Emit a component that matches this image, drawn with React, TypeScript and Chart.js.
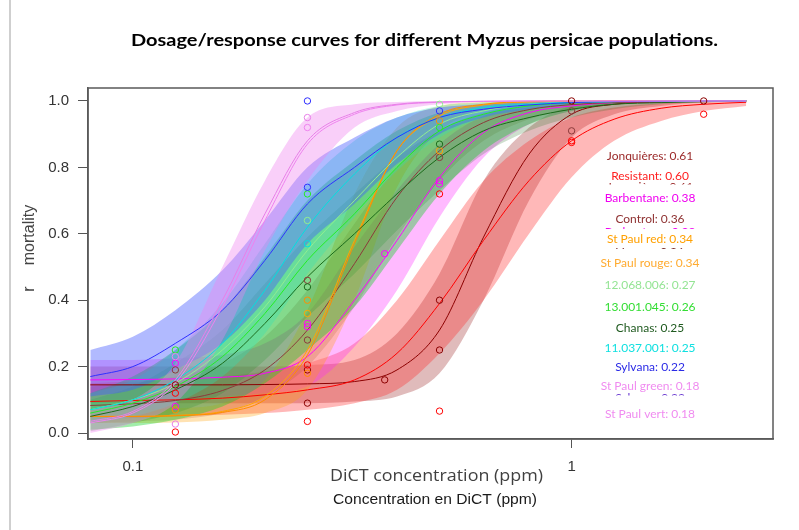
import React, { useEffect, useRef } from "react";
import { Chart, registerables } from "chart.js";
Chart.register(...registerables);

// ---------- data ----------
const doses = [0.08, 0.1, 0.125, 0.16, 0.2, 0.25, 0.32, 0.4, 0.5, 0.63, 0.8, 1, 1.25, 1.6, 2, 2.5];

const jonqFit = [0.145, 0.145, 0.145, 0.145, 0.146, 0.148, 0.155, 0.19, 0.31, 0.59, 0.84, 0.96, 0.99, 0.997, 0.999, 1.0];
const jonqLo = [0.09, 0.09, 0.09, 0.09, 0.09, 0.09, 0.095, 0.11, 0.18, 0.4, 0.7, 0.89, 0.96, 0.985, 0.995, 0.998];
const jonqHi = [0.2, 0.2, 0.2, 0.2, 0.2, 0.205, 0.22, 0.3, 0.48, 0.76, 0.92, 0.985, 0.997, 0.999, 1, 1];

const resFit = [0.095, 0.098, 0.1, 0.105, 0.115, 0.13, 0.16, 0.24, 0.39, 0.58, 0.76, 0.88, 0.945, 0.978, 0.99, 0.996];
const resLo = [0.04, 0.045, 0.05, 0.055, 0.06, 0.07, 0.09, 0.13, 0.24, 0.4, 0.6, 0.77, 0.88, 0.94, 0.97, 0.985];
const resHi = [0.15, 0.155, 0.16, 0.17, 0.185, 0.21, 0.27, 0.4, 0.58, 0.76, 0.88, 0.95, 0.98, 0.993, 0.997, 0.999];

const barbFit = [0.16, 0.161, 0.163, 0.168, 0.18, 0.23, 0.4, 0.58, 0.77, 0.905, 0.965, 0.985, 0.995, 0.998, 0.999, 1.0];
const barbLo = [0.1, 0.1, 0.1, 0.11, 0.12, 0.14, 0.26, 0.43, 0.65, 0.83, 0.93, 0.97, 0.99, 0.995, 0.998, 0.999];
const barbHi = [0.22, 0.22, 0.225, 0.235, 0.27, 0.36, 0.56, 0.73, 0.87, 0.955, 0.985, 0.995, 0.998, 0.999, 1, 1];

const ctrlFit = [0.083, 0.088, 0.098, 0.128, 0.19, 0.31, 0.51, 0.71, 0.85, 0.935, 0.974, 0.989, 0.995, 0.998, 0.999, 1];
const ctrlLo = [0.03, 0.035, 0.04, 0.06, 0.11, 0.2, 0.38, 0.59, 0.76, 0.88, 0.945, 0.975, 0.99, 0.995, 0.998, 0.999];
const ctrlHi = [0.14, 0.15, 0.17, 0.21, 0.29, 0.43, 0.63, 0.8, 0.91, 0.965, 0.988, 0.995, 0.998, 0.999, 1, 1];

const sprFit = [0.05, 0.05, 0.052, 0.062, 0.1, 0.235, 0.57, 0.85, 0.96, 0.99, 0.998, 1, 1, 1, 1, 1];
const sprLo = [0.03, 0.03, 0.032, 0.04, 0.06, 0.13, 0.4, 0.74, 0.91, 0.97, 0.99, 0.998, 1, 1, 1, 1];
const sprHi = [0.07, 0.07, 0.075, 0.09, 0.16, 0.37, 0.72, 0.92, 0.985, 0.997, 1, 1, 1, 1, 1, 1];

const sprgFit = [0.05, 0.05, 0.053, 0.065, 0.11, 0.25, 0.58, 0.85, 0.955, 0.988, 0.997, 0.999, 1, 1, 1, 1];

const p12Fit = [0.07, 0.1, 0.15, 0.25, 0.38, 0.55, 0.7, 0.83, 0.93, 0.97, 0.99, 0.995, 0.998, 0.999, 1, 1];

const p13Fit = [0.06, 0.09, 0.14, 0.23, 0.36, 0.52, 0.66, 0.8, 0.91, 0.96, 0.985, 0.994, 0.998, 0.999, 1, 1];
const p13Lo = [0.01, 0.02, 0.04, 0.08, 0.15, 0.25, 0.38, 0.55, 0.72, 0.85, 0.93, 0.97, 0.99, 0.995, 1, 1];
const p13Hi = [0.12, 0.17, 0.25, 0.37, 0.53, 0.7, 0.82, 0.91, 0.965, 0.988, 0.996, 0.999, 1, 1, 1, 1];

const chanFit = [0.05, 0.08, 0.13, 0.21, 0.33, 0.47, 0.6, 0.72, 0.83, 0.91, 0.95, 0.975, 0.99, 0.995, 0.998, 1];
const chanLo = [0.005, 0.03, 0.06, 0.12, 0.22, 0.35, 0.48, 0.61, 0.73, 0.84, 0.91, 0.95, 0.975, 0.99, 0.995, 0.998];
const chanHi = [0.1, 0.14, 0.21, 0.31, 0.45, 0.59, 0.72, 0.83, 0.91, 0.96, 0.98, 0.99, 0.997, 0.999, 1, 1];

const p11Fit = [0.07, 0.1, 0.16, 0.27, 0.43, 0.62, 0.78, 0.89, 0.95, 0.98, 0.99, 0.996, 0.998, 0.999, 1, 1];
const p11Lo = [0.03, 0.05, 0.09, 0.17, 0.3, 0.48, 0.65, 0.79, 0.89, 0.95, 0.975, 0.99, 0.995, 0.998, 1, 1];
const p11Hi = [0.12, 0.16, 0.25, 0.39, 0.57, 0.75, 0.88, 0.95, 0.985, 0.995, 0.998, 1, 1, 1, 1, 1];

const sylFit = [0.17, 0.2, 0.27, 0.37, 0.52, 0.69, 0.8, 0.89, 0.95, 0.975, 0.988, 0.995, 0.998, 0.999, 1, 1];
const sylLo = [0.11, 0.13, 0.19, 0.27, 0.4, 0.57, 0.69, 0.81, 0.9, 0.95, 0.975, 0.99, 0.995, 0.998, 1, 1];
const sylHi = [0.25, 0.29, 0.37, 0.49, 0.64, 0.8, 0.89, 0.95, 0.98, 0.99, 0.996, 0.998, 1, 1, 1, 1];

const spgFit = [0.035, 0.065, 0.16, 0.4, 0.66, 0.88, 0.965, 0.99, 0.997, 0.999, 1, 1, 1, 1, 1, 1];
const spgLo = [0.0, 0.03, 0.09, 0.28, 0.55, 0.76, 0.92, 0.97, 0.99, 0.997, 1, 1, 1, 1, 1, 1];
const spgHi = [0.07, 0.1, 0.21, 0.5, 0.76, 0.95, 0.99, 0.997, 1, 1, 1, 1, 1, 1, 1, 1];

const spvFit = [0.03, 0.06, 0.15, 0.38, 0.64, 0.87, 0.96, 0.988, 0.996, 0.999, 1, 1, 1, 1, 1, 1];

// observed mortalities (dose, value)
const jonqObsDose = [0.125, 0.25, 0.25, 0.375, 0.5, 0.5, 1, 2];
const jonqObs = [0.145, 0.09, 0.19, 0.16, 0.4, 0.25, 1.0, 1.0];
const resObsDose = [0.125, 0.125, 0.25, 0.25, 0.5, 0.5, 1, 1, 2];
const resObs = [0.003, 0.12, 0.035, 0.205, 0.066, 0.72, 0.88, 0.875, 0.96];
const barbObsDose = [0.125, 0.125, 0.25, 0.25, 0.375, 0.5, 0.5];
const barbObs = [0.21, 0.08, 0.33, 0.32, 0.54, 0.76, 0.75];
const ctrlObsDose = [0.125, 0.25, 0.25, 0.5, 1, 1];
const ctrlObs = [0.19, 0.46, 0.28, 0.83, 0.91, 0.97];
const sprObsDose = [0.125, 0.25, 0.25, 0.5];
const sprObs = [0.07, 0.4, 0.18, 0.94];
const sprgObsDose = [0.25, 0.5];
const sprgObs = [0.36, 0.85];
const p12ObsDose = [0.25, 0.5];
const p12Obs = [0.64, 0.99];
const p13ObsDose = [0.125, 0.25, 0.5];
const p13Obs = [0.25, 0.72, 0.92];
const chanObsDose = [0.25, 0.5];
const chanObs = [0.44, 0.87];
const p11ObsDose = [0.25];
const p11Obs = [0.57];
const sylObsDose = [0.25, 0.25, 0.5];
const sylObs = [1.0, 0.74, 0.97];
const spgObsDose = [0.125, 0.25];
const spgObs = [0.027, 0.95];
const spvObsDose = [0.125, 0.25];
const spvObs = [0.23, 0.92];

const legendNames = ["Jonquières", "Resistant", "Barbentane", "Control", "St Paul red", "St Paul rouge", "12.068.006", "13.001.045", "Chanas", "11.037.001", "Sylvana", "St Paul green", "St Paul vert"];
const legendLC50 = ["0.61", "0.60", "0.38", "0.36", "0.34", "0.34", "0.27", "0.26", "0.25", "0.25", "0.22", "0.18", "0.18"];
// labels mostly hidden behind others (only their top edge shows)
const ghostNames = ["Jonquières", "Barbentane", "Vernon", "Sylvana"];
const ghostLC50 = ["0.61", "0.38", "0.36", "0.22"];

const xTicks = [0.1, 1];
const xTickLabels = ["0.1", "1"];
const yTicks = [0, 0.2, 0.4, 0.6, 0.8, 1.0];

// ---------- styling ----------
const X_MIN = 0.07903;
const X_MAX = 2.8777;
const Y_MIN = -0.018;
const Y_MAX = 1.039;

const legendColors = ["#9b2a2a", "#ff2020", "#f000f0", "#8f3232", "#ffa000", "#ffab30", "#94e494", "#33dd33", "#1f5a1f", "#10e0e0", "#2a2ae6", "#f08cf0", "#f08cf0"];
const legendPixY = [160, 180, 202, 223, 243, 267, 289, 311, 332, 352, 371, 390, 418];
const ghostColors = ["#9b2a2a", "#f000f0", "#7a3030", "#6a3ad0"];
const ghostTop = [182, 226.5, 246.5, 393];

interface Pop {
  fit: number[];
  lo?: number[];
  hi?: number[];
  band?: string;
  line: string;
  obsX: number[];
  obsY: number[];
}

const pops: Pop[] = [
  { fit: spgFit, lo: spgLo, hi: spgHi, band: "rgba(238,130,238,0.38)", line: "#e77fe7", obsX: spgObsDose, obsY: spgObs },
  { fit: spvFit, line: "#ee82ee", obsX: spvObsDose, obsY: spvObs },
  { fit: sylFit, lo: sylLo, hi: sylHi, band: "rgba(70,90,255,0.42)", line: "#2f2fff", obsX: sylObsDose, obsY: sylObs },
  { fit: p11Fit, lo: p11Lo, hi: p11Hi, band: "rgba(40,230,190,0.30)", line: "#00e0e0", obsX: p11ObsDose, obsY: p11Obs },
  { fit: p13Fit, lo: p13Lo, hi: p13Hi, band: "rgba(20,210,40,0.40)", line: "#22ee22", obsX: p13ObsDose, obsY: p13Obs },
  { fit: chanFit, lo: chanLo, hi: chanHi, band: "rgba(30,110,30,0.22)", line: "#1a6a1a", obsX: chanObsDose, obsY: chanObs },
  { fit: p12Fit, line: "#90ee90", obsX: p12ObsDose, obsY: p12Obs },
  { fit: sprFit, lo: sprLo, hi: sprHi, band: "rgba(255,160,0,0.30)", line: "#ff8c00", obsX: sprObsDose, obsY: sprObs },
  { fit: sprgFit, line: "#ffa500", obsX: sprgObsDose, obsY: sprgObs },
  { fit: ctrlFit, lo: ctrlLo, hi: ctrlHi, band: "rgba(150,60,60,0.22)", line: "#8b3a3a", obsX: ctrlObsDose, obsY: ctrlObs },
  { fit: barbFit, lo: barbLo, hi: barbHi, band: "rgba(255,40,255,0.32)", line: "#ff00ff", obsX: barbObsDose, obsY: barbObs },
  { fit: resFit, lo: resLo, hi: resHi, band: "rgba(255,40,40,0.33)", line: "#ff0000", obsX: resObsDose, obsY: resObs },
  { fit: jonqFit, lo: jonqLo, hi: jonqHi, band: "rgba(160,50,50,0.33)", line: "#8b0000", obsX: jonqObsDose, obsY: jonqObs },
];

const toXY = (ys: number[]) => doses.map((d, i) => ({ x: d, y: ys[i] }));

function buildDatasets() {
  const ds: any[] = [];
  pops.forEach((p) => {
    if (p.lo && p.hi) {
      ds.push({
        type: "line",
        data: toXY(p.hi),
        borderWidth: 0,
        pointRadius: 0,
        cubicInterpolationMode: "monotone",
        fill: "+1",
        backgroundColor: p.band,
        borderColor: "rgba(0,0,0,0)",
        order: 3,
      });
      ds.push({
        type: "line",
        data: toXY(p.lo),
        borderWidth: 0,
        pointRadius: 0,
        cubicInterpolationMode: "monotone",
        fill: false,
        borderColor: "rgba(0,0,0,0)",
        order: 3,
      });
    }
  });
  pops.forEach((p) => {
    ds.push({
      type: "line",
      data: toXY(p.fit),
      borderWidth: 1,
      borderColor: p.line,
      pointRadius: 0,
      cubicInterpolationMode: "monotone",
      fill: false,
      order: 2,
    });
  });
  pops.forEach((p) => {
    ds.push({
      type: "line",
      data: p.obsX.map((x, i) => ({ x, y: p.obsY[i] })),
      showLine: false,
      pointRadius: 3.2,
      pointBorderWidth: 1,
      pointBackgroundColor: "rgba(0,0,0,0)",
      pointBorderColor: p.line,
      fill: false,
      order: 1,
    });
  });
  return ds;
}

function fitText(ctx: CanvasRenderingContext2D, text: string, cx: number, y: number, font: string, color: string, width?: number) {
  ctx.save();
  ctx.font = font;
  ctx.fillStyle = color;
  ctx.textAlign = "center";
  ctx.textBaseline = "alphabetic";
  ctx.translate(cx, y);
  if (width) {
    const w = ctx.measureText(text).width;
    ctx.scale(width / w, 1);
  }
  ctx.fillText(text, 0, 0);
  ctx.restore();
}

const decorPlugin = {
  id: "decor",
  afterDraw(chart: any) {
    const ctx: CanvasRenderingContext2D = chart.ctx;
    const a = chart.chartArea;
    ctx.save();
    // page edge line
    ctx.fillStyle = "#cfcfcf";
    ctx.fillRect(9, 0, 2, 530);
    // plot box
    ctx.strokeStyle = "#5a5a5a";
    ctx.lineWidth = 1.5;
    ctx.strokeRect(a.left, a.top, a.right - a.left, a.bottom - a.top);
    ctx.restore();

    fitText(ctx, "Dosage/response curves for different Myzus persicae populations.", 424.5, 46, "bold 17px Lato", "#000", 587);
    fitText(ctx, "DiCT concentration (ppm)", 436.5, 481, "16px 'Open Sans'", "#404040", 213);
    fitText(ctx, "Concentration en DiCT (ppm)", 435, 504, "14px 'Liberation Sans'", "#1a1a1a", 204);

    // y axis label
    ctx.save();
    ctx.translate(34, 235);
    ctx.rotate(-Math.PI / 2);
    ctx.font = "16px 'Liberation Sans'";
    ctx.fillStyle = "#444";
    ctx.textAlign = "center";
    ctx.fillText("mortality", 0, 0);
    ctx.restore();
    ctx.save();
    ctx.translate(34, 289);
    ctx.rotate(-Math.PI / 2);
    ctx.font = "16px 'Liberation Sans'";
    ctx.fillStyle = "#444";
    ctx.textAlign = "center";
    ctx.fillText("r", 0, 0);
    ctx.restore();

    // partially hidden labels: only a thin top strip is visible
    ghostNames.forEach((n, i) => {
      ctx.save();
      ctx.beginPath();
      ctx.rect(600, ghostTop[i], 100, 2.5);
      ctx.clip();
      fitText(ctx, n + ": " + ghostLC50[i], 650, ghostTop[i] + 9, "12px Lato", ghostColors[i]);
      ctx.restore();
    });

    // population labels
    legendNames.forEach((n, i) => {
      fitText(ctx, n + ": " + legendLC50[i], 650, legendPixY[i], "12px Lato", legendColors[i]);
    });
  },
};

export default function App() {
  const ref = useRef<HTMLCanvasElement | null>(null);
  useEffect(() => {
    if (!ref.current) return;
    const chart = new Chart(ref.current, {
      type: "line",
      data: { datasets: buildDatasets() },
      options: {
        responsive: false,
        animation: false,
        events: [],
        layout: { padding: { top: 88, right: 26, left: 0, bottom: 0 } },
        plugins: { legend: { display: false }, tooltip: { enabled: false }, title: { display: false } },
        scales: {
          x: {
            type: "logarithmic",
            min: X_MIN,
            max: X_MAX,
            afterBuildTicks: (s: any) => {
              s.ticks = xTicks.map((v) => ({ value: v }));
            },
            afterFit: (s: any) => {
              s.height = 91;
            },
            ticks: {
              autoSkip: false,
              maxRotation: 0,
              padding: 10,
              color: "#333",
              font: { family: "'Liberation Sans'", size: 15 },
              callback: (v: any) => xTickLabels[xTicks.indexOf(Number(v))] ?? "",
            },
            grid: { drawOnChartArea: false, drawTicks: true, tickLength: 9, color: "#555" },
            border: { display: true, color: "#5a5a5a", width: 1.5 },
          },
          y: {
            type: "linear",
            min: Y_MIN,
            max: Y_MAX,
            afterBuildTicks: (s: any) => {
              s.ticks = yTicks.map((v) => ({ value: v }));
            },
            afterFit: (s: any) => {
              s.width = 88;
            },
            ticks: {
              padding: 9,
              color: "#333",
              font: { family: "'Liberation Sans'", size: 15 },
              callback: (v: any) => Number(v).toFixed(1),
            },
            grid: { drawOnChartArea: false, drawTicks: true, tickLength: 10, color: "#555" },
            border: { display: true, color: "#5a5a5a", width: 1.5 },
          },
        },
      },
      plugins: [decorPlugin],
    });
    return () => chart.destroy();
  }, []);
  return (
    <div style={{ position: "absolute", left: 0, top: 0, width: 799, height: 530, background: "#fff" }}>
      <canvas ref={ref} width={799} height={530} style={{ display: "block" }} />
    </div>
  );
}
